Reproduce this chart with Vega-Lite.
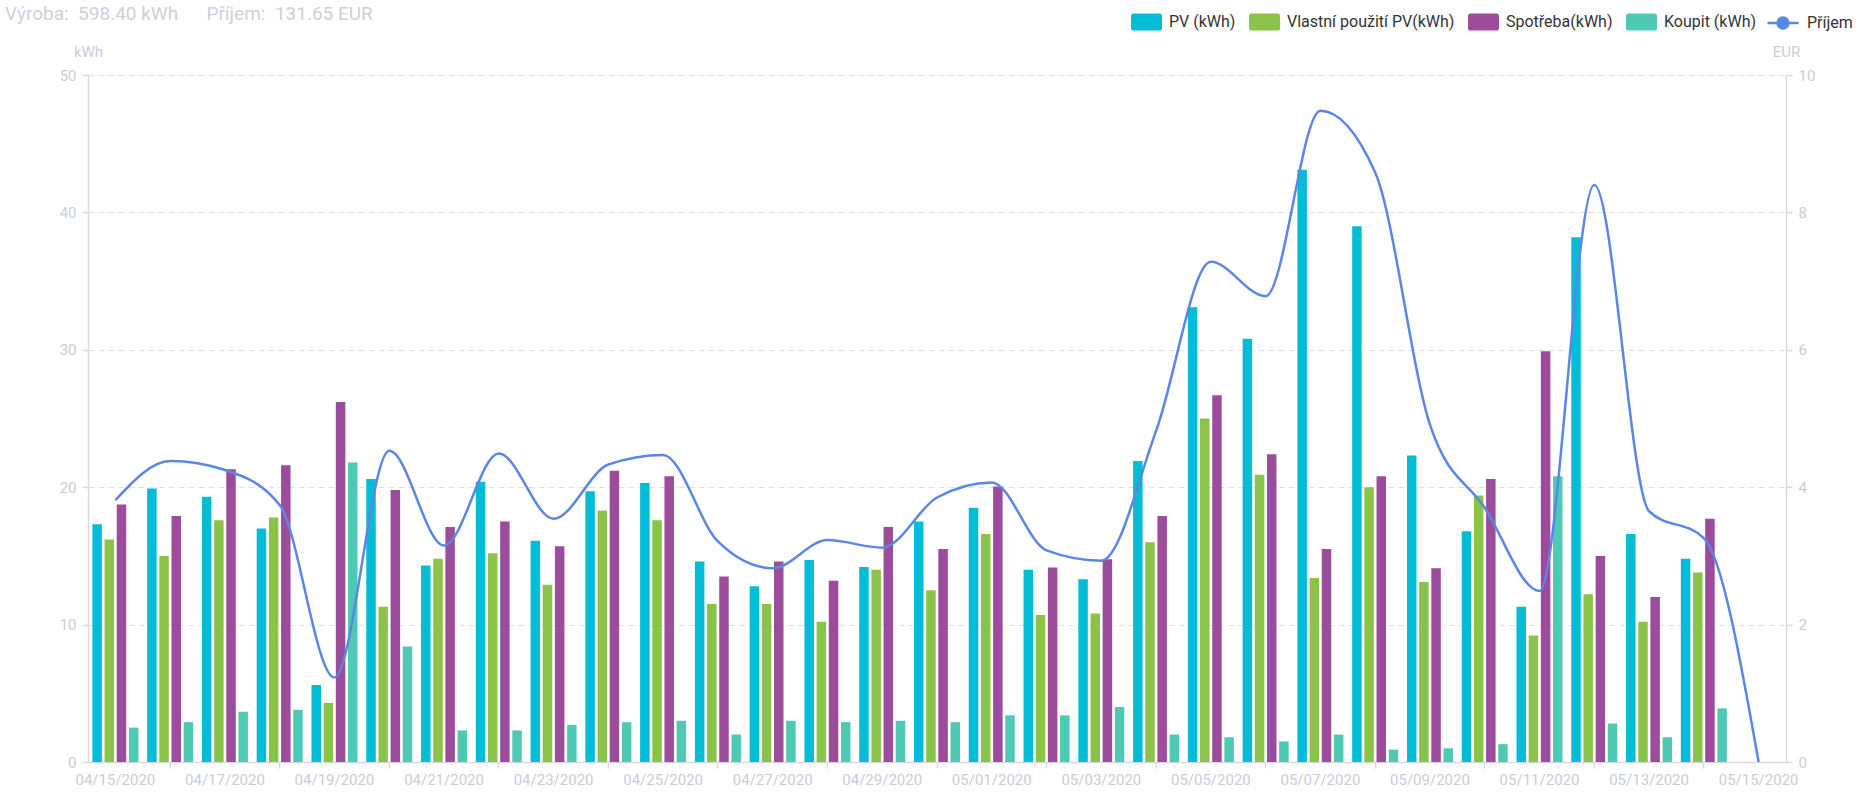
{
  "$schema": "https://vega.github.io/schema/vega-lite/v6.json",
  "width": 1698,
  "height": 687,
  "autosize": {"type": "none"},
  "padding": {"left": 88, "top": 75, "right": 84, "bottom": 50},
  "background": "#ffffff",
  "title": {
    "text": "Výroba:\u00a0\u00a0598.40 kWh\u00a0\u00a0\u00a0\u00a0\u00a0\u00a0Příjem:\u00a0\u00a0131.65 EUR",
    "anchor": "start",
    "frame": "group",
    "orient": "top",
    "dx": -83,
    "dy": 24,
    "offset": 6,
    "font": "Roboto",
    "fontSize": 19,
    "fontWeight": "normal",
    "color": "#cdd0db"
  },
  "datasets": {
    "bars": [
      {"date": "04/15/2020", "series": "PV (kWh)", "kwh": 17.3},
      {"date": "04/15/2020", "series": "Vlastní použití PV(kWh)", "kwh": 16.2},
      {"date": "04/15/2020", "series": "Spotřeba(kWh)", "kwh": 18.75},
      {"date": "04/15/2020", "series": "Koupit (kWh)", "kwh": 2.5},
      {"date": "04/16/2020", "series": "PV (kWh)", "kwh": 19.9},
      {"date": "04/16/2020", "series": "Vlastní použití PV(kWh)", "kwh": 15.0},
      {"date": "04/16/2020", "series": "Spotřeba(kWh)", "kwh": 17.9},
      {"date": "04/16/2020", "series": "Koupit (kWh)", "kwh": 2.9},
      {"date": "04/17/2020", "series": "PV (kWh)", "kwh": 19.3},
      {"date": "04/17/2020", "series": "Vlastní použití PV(kWh)", "kwh": 17.6},
      {"date": "04/17/2020", "series": "Spotřeba(kWh)", "kwh": 21.3},
      {"date": "04/17/2020", "series": "Koupit (kWh)", "kwh": 3.65},
      {"date": "04/18/2020", "series": "PV (kWh)", "kwh": 17.0},
      {"date": "04/18/2020", "series": "Vlastní použití PV(kWh)", "kwh": 17.8},
      {"date": "04/18/2020", "series": "Spotřeba(kWh)", "kwh": 21.6},
      {"date": "04/18/2020", "series": "Koupit (kWh)", "kwh": 3.8},
      {"date": "04/19/2020", "series": "PV (kWh)", "kwh": 5.6},
      {"date": "04/19/2020", "series": "Vlastní použití PV(kWh)", "kwh": 4.3},
      {"date": "04/19/2020", "series": "Spotřeba(kWh)", "kwh": 26.2},
      {"date": "04/19/2020", "series": "Koupit (kWh)", "kwh": 21.8},
      {"date": "04/20/2020", "series": "PV (kWh)", "kwh": 20.6},
      {"date": "04/20/2020", "series": "Vlastní použití PV(kWh)", "kwh": 11.3},
      {"date": "04/20/2020", "series": "Spotřeba(kWh)", "kwh": 19.8},
      {"date": "04/20/2020", "series": "Koupit (kWh)", "kwh": 8.4},
      {"date": "04/21/2020", "series": "PV (kWh)", "kwh": 14.3},
      {"date": "04/21/2020", "series": "Vlastní použití PV(kWh)", "kwh": 14.8},
      {"date": "04/21/2020", "series": "Spotřeba(kWh)", "kwh": 17.1},
      {"date": "04/21/2020", "series": "Koupit (kWh)", "kwh": 2.3},
      {"date": "04/22/2020", "series": "PV (kWh)", "kwh": 20.4},
      {"date": "04/22/2020", "series": "Vlastní použití PV(kWh)", "kwh": 15.2},
      {"date": "04/22/2020", "series": "Spotřeba(kWh)", "kwh": 17.5},
      {"date": "04/22/2020", "series": "Koupit (kWh)", "kwh": 2.3},
      {"date": "04/23/2020", "series": "PV (kWh)", "kwh": 16.1},
      {"date": "04/23/2020", "series": "Vlastní použití PV(kWh)", "kwh": 12.9},
      {"date": "04/23/2020", "series": "Spotřeba(kWh)", "kwh": 15.7},
      {"date": "04/23/2020", "series": "Koupit (kWh)", "kwh": 2.7},
      {"date": "04/24/2020", "series": "PV (kWh)", "kwh": 19.7},
      {"date": "04/24/2020", "series": "Vlastní použití PV(kWh)", "kwh": 18.3},
      {"date": "04/24/2020", "series": "Spotřeba(kWh)", "kwh": 21.2},
      {"date": "04/24/2020", "series": "Koupit (kWh)", "kwh": 2.9},
      {"date": "04/25/2020", "series": "PV (kWh)", "kwh": 20.3},
      {"date": "04/25/2020", "series": "Vlastní použití PV(kWh)", "kwh": 17.6},
      {"date": "04/25/2020", "series": "Spotřeba(kWh)", "kwh": 20.8},
      {"date": "04/25/2020", "series": "Koupit (kWh)", "kwh": 3.0},
      {"date": "04/26/2020", "series": "PV (kWh)", "kwh": 14.6},
      {"date": "04/26/2020", "series": "Vlastní použití PV(kWh)", "kwh": 11.5},
      {"date": "04/26/2020", "series": "Spotřeba(kWh)", "kwh": 13.5},
      {"date": "04/26/2020", "series": "Koupit (kWh)", "kwh": 2.0},
      {"date": "04/27/2020", "series": "PV (kWh)", "kwh": 12.8},
      {"date": "04/27/2020", "series": "Vlastní použití PV(kWh)", "kwh": 11.5},
      {"date": "04/27/2020", "series": "Spotřeba(kWh)", "kwh": 14.6},
      {"date": "04/27/2020", "series": "Koupit (kWh)", "kwh": 3.0},
      {"date": "04/28/2020", "series": "PV (kWh)", "kwh": 14.7},
      {"date": "04/28/2020", "series": "Vlastní použití PV(kWh)", "kwh": 10.2},
      {"date": "04/28/2020", "series": "Spotřeba(kWh)", "kwh": 13.2},
      {"date": "04/28/2020", "series": "Koupit (kWh)", "kwh": 2.9},
      {"date": "04/29/2020", "series": "PV (kWh)", "kwh": 14.2},
      {"date": "04/29/2020", "series": "Vlastní použití PV(kWh)", "kwh": 14.0},
      {"date": "04/29/2020", "series": "Spotřeba(kWh)", "kwh": 17.1},
      {"date": "04/29/2020", "series": "Koupit (kWh)", "kwh": 3.0},
      {"date": "04/30/2020", "series": "PV (kWh)", "kwh": 17.5},
      {"date": "04/30/2020", "series": "Vlastní použití PV(kWh)", "kwh": 12.5},
      {"date": "04/30/2020", "series": "Spotřeba(kWh)", "kwh": 15.5},
      {"date": "04/30/2020", "series": "Koupit (kWh)", "kwh": 2.9},
      {"date": "05/01/2020", "series": "PV (kWh)", "kwh": 18.5},
      {"date": "05/01/2020", "series": "Vlastní použití PV(kWh)", "kwh": 16.6},
      {"date": "05/01/2020", "series": "Spotřeba(kWh)", "kwh": 20.05},
      {"date": "05/01/2020", "series": "Koupit (kWh)", "kwh": 3.4},
      {"date": "05/02/2020", "series": "PV (kWh)", "kwh": 14.0},
      {"date": "05/02/2020", "series": "Vlastní použití PV(kWh)", "kwh": 10.7},
      {"date": "05/02/2020", "series": "Spotřeba(kWh)", "kwh": 14.15},
      {"date": "05/02/2020", "series": "Koupit (kWh)", "kwh": 3.4},
      {"date": "05/03/2020", "series": "PV (kWh)", "kwh": 13.3},
      {"date": "05/03/2020", "series": "Vlastní použití PV(kWh)", "kwh": 10.8},
      {"date": "05/03/2020", "series": "Spotřeba(kWh)", "kwh": 14.75},
      {"date": "05/03/2020", "series": "Koupit (kWh)", "kwh": 4.0},
      {"date": "05/04/2020", "series": "PV (kWh)", "kwh": 21.9},
      {"date": "05/04/2020", "series": "Vlastní použití PV(kWh)", "kwh": 16.0},
      {"date": "05/04/2020", "series": "Spotřeba(kWh)", "kwh": 17.9},
      {"date": "05/04/2020", "series": "Koupit (kWh)", "kwh": 2.0},
      {"date": "05/05/2020", "series": "PV (kWh)", "kwh": 33.1},
      {"date": "05/05/2020", "series": "Vlastní použití PV(kWh)", "kwh": 25.0},
      {"date": "05/05/2020", "series": "Spotřeba(kWh)", "kwh": 26.7},
      {"date": "05/05/2020", "series": "Koupit (kWh)", "kwh": 1.8},
      {"date": "05/06/2020", "series": "PV (kWh)", "kwh": 30.8},
      {"date": "05/06/2020", "series": "Vlastní použití PV(kWh)", "kwh": 20.9},
      {"date": "05/06/2020", "series": "Spotřeba(kWh)", "kwh": 22.4},
      {"date": "05/06/2020", "series": "Koupit (kWh)", "kwh": 1.5},
      {"date": "05/07/2020", "series": "PV (kWh)", "kwh": 43.1},
      {"date": "05/07/2020", "series": "Vlastní použití PV(kWh)", "kwh": 13.4},
      {"date": "05/07/2020", "series": "Spotřeba(kWh)", "kwh": 15.5},
      {"date": "05/07/2020", "series": "Koupit (kWh)", "kwh": 2.0},
      {"date": "05/08/2020", "series": "PV (kWh)", "kwh": 39.0},
      {"date": "05/08/2020", "series": "Vlastní použití PV(kWh)", "kwh": 20.0},
      {"date": "05/08/2020", "series": "Spotřeba(kWh)", "kwh": 20.8},
      {"date": "05/08/2020", "series": "Koupit (kWh)", "kwh": 0.9},
      {"date": "05/09/2020", "series": "PV (kWh)", "kwh": 22.3},
      {"date": "05/09/2020", "series": "Vlastní použití PV(kWh)", "kwh": 13.1},
      {"date": "05/09/2020", "series": "Spotřeba(kWh)", "kwh": 14.1},
      {"date": "05/09/2020", "series": "Koupit (kWh)", "kwh": 1.0},
      {"date": "05/10/2020", "series": "PV (kWh)", "kwh": 16.8},
      {"date": "05/10/2020", "series": "Vlastní použití PV(kWh)", "kwh": 19.4},
      {"date": "05/10/2020", "series": "Spotřeba(kWh)", "kwh": 20.6},
      {"date": "05/10/2020", "series": "Koupit (kWh)", "kwh": 1.3},
      {"date": "05/11/2020", "series": "PV (kWh)", "kwh": 11.3},
      {"date": "05/11/2020", "series": "Vlastní použití PV(kWh)", "kwh": 9.2},
      {"date": "05/11/2020", "series": "Spotřeba(kWh)", "kwh": 29.9},
      {"date": "05/11/2020", "series": "Koupit (kWh)", "kwh": 20.8},
      {"date": "05/12/2020", "series": "PV (kWh)", "kwh": 38.2},
      {"date": "05/12/2020", "series": "Vlastní použití PV(kWh)", "kwh": 12.2},
      {"date": "05/12/2020", "series": "Spotřeba(kWh)", "kwh": 15.0},
      {"date": "05/12/2020", "series": "Koupit (kWh)", "kwh": 2.8},
      {"date": "05/13/2020", "series": "PV (kWh)", "kwh": 16.6},
      {"date": "05/13/2020", "series": "Vlastní použití PV(kWh)", "kwh": 10.2},
      {"date": "05/13/2020", "series": "Spotřeba(kWh)", "kwh": 12.0},
      {"date": "05/13/2020", "series": "Koupit (kWh)", "kwh": 1.8},
      {"date": "05/14/2020", "series": "PV (kWh)", "kwh": 14.8},
      {"date": "05/14/2020", "series": "Vlastní použití PV(kWh)", "kwh": 13.8},
      {"date": "05/14/2020", "series": "Spotřeba(kWh)", "kwh": 17.7},
      {"date": "05/14/2020", "series": "Koupit (kWh)", "kwh": 3.9},
      {"date": "05/15/2020", "series": "PV (kWh)", "kwh": 0},
      {"date": "05/15/2020", "series": "Vlastní použití PV(kWh)", "kwh": 0},
      {"date": "05/15/2020", "series": "Spotřeba(kWh)", "kwh": 0},
      {"date": "05/15/2020", "series": "Koupit (kWh)", "kwh": 0}
    ],
    "income": [
      {"date": "04/15/2020", "eur": 3.81},
      {"date": "04/16/2020", "eur": 4.38},
      {"date": "04/17/2020", "eur": 4.25},
      {"date": "04/18/2020", "eur": 3.74},
      {"date": "04/19/2020", "eur": 1.23},
      {"date": "04/20/2020", "eur": 4.53},
      {"date": "04/21/2020", "eur": 3.15},
      {"date": "04/22/2020", "eur": 4.49},
      {"date": "04/23/2020", "eur": 3.54},
      {"date": "04/24/2020", "eur": 4.33},
      {"date": "04/25/2020", "eur": 4.47},
      {"date": "04/26/2020", "eur": 3.21},
      {"date": "04/27/2020", "eur": 2.82},
      {"date": "04/28/2020", "eur": 3.23},
      {"date": "04/29/2020", "eur": 3.12},
      {"date": "04/30/2020", "eur": 3.85},
      {"date": "05/01/2020", "eur": 4.07},
      {"date": "05/02/2020", "eur": 3.08},
      {"date": "05/03/2020", "eur": 2.93},
      {"date": "05/04/2020", "eur": 4.82},
      {"date": "05/05/2020", "eur": 7.28},
      {"date": "05/06/2020", "eur": 6.78},
      {"date": "05/07/2020", "eur": 9.48},
      {"date": "05/08/2020", "eur": 8.58},
      {"date": "05/09/2020", "eur": 4.91},
      {"date": "05/10/2020", "eur": 3.70},
      {"date": "05/11/2020", "eur": 2.49},
      {"date": "05/12/2020", "eur": 8.40},
      {"date": "05/13/2020", "eur": 3.65},
      {"date": "05/14/2020", "eur": 3.26},
      {"date": "05/15/2020", "eur": 0}
    ]
  },
  "layer": [
    {
      "data": {"name": "bars"},
      "mark": {"type": "bar"},
      "encoding": {
        "x": {
          "field": "date",
          "type": "ordinal",
          "scale": {"paddingInner": 0.16, "paddingOuter": 0.08},
          "axis": {
            "title": null,
            "labelAngle": 0,
            "ticks": false,
            "values": ["04/15/2020", "04/17/2020", "04/19/2020", "04/21/2020", "04/23/2020", "04/25/2020", "04/27/2020", "04/29/2020", "05/01/2020", "05/03/2020", "05/05/2020", "05/07/2020", "05/09/2020", "05/11/2020", "05/13/2020", "05/15/2020"],
            "labelPadding": 10
          }
        },
        "xOffset": {
          "field": "series",
          "type": "nominal",
          "sort": ["PV (kWh)", "Vlastní použití PV(kWh)", "Spotřeba(kWh)", "Koupit (kWh)"],
          "scale": {"paddingInner": 0.22, "paddingOuter": 0}
        },
        "y": {
          "field": "kwh",
          "type": "quantitative",
          "scale": {"domain": [0, 50]},
          "axis": {
            "title": "kWh",
            "values": [0, 10, 20, 30, 40, 50],
            "grid": true,
            "gridDash": [6, 4],
            "gridColor": "#dcdee8",
            "titleAngle": 0,
            "titleX": 0,
            "titleY": -24,
            "titleAlign": "center",
            "titleBaseline": "middle"
          }
        },
        "fill": {
          "field": "series",
          "type": "nominal",
          "sort": ["PV (kWh)", "Vlastní použití PV(kWh)", "Spotřeba(kWh)", "Koupit (kWh)"],
          "scale": {
            "domain": ["PV (kWh)", "Vlastní použití PV(kWh)", "Spotřeba(kWh)", "Koupit (kWh)"],
            "range": ["#03bcd6", "#8bc34a", "#9b4c9b", "#4ecab4"]
          },
          "legend": {
            "title": null,
            "orient": "none",
            "direction": "horizontal",
            "legendX": 1043,
            "legendY": -69,
            "symbolType": "M-0.85,-0.55 H0.85 A0.15,0.15 0 0 1 1,-0.4 V0.4 A0.15,0.15 0 0 1 0.85,0.55 H-0.85 A0.15,0.15 0 0 1 -1,0.4 V-0.4 A0.15,0.15 0 0 1 -0.85,-0.55 Z",
            "symbolSize": 961,
            "symbolStrokeWidth": 0,
            "labelOffset": 7,
            "labelLimit": 400,
            "columnPadding": 12
          }
        }
      }
    },
    {
      "data": {"name": "income"},
      "mark": {"type": "line", "interpolate": "monotone", "strokeWidth": 2.5},
      "encoding": {
        "x": {
          "field": "date",
          "type": "ordinal",
          "axis": {
            "orient": "bottom",
            "title": null,
            "labels": false,
            "domain": false,
            "ticks": true,
            "tickSize": 6,
            "values": ["04/16/2020", "04/18/2020", "04/20/2020", "04/22/2020", "04/24/2020", "04/26/2020", "04/28/2020", "04/30/2020", "05/02/2020", "05/04/2020", "05/06/2020", "05/08/2020", "05/10/2020", "05/12/2020", "05/14/2020"]
          }
        },
        "y": {
          "field": "eur",
          "type": "quantitative",
          "scale": {"domain": [0, 10]},
          "axis": {
            "orient": "right",
            "title": "EUR",
            "values": [0, 2, 4, 6, 8, 10],
            "grid": false,
            "titleAngle": 0,
            "titleX": 0,
            "titleY": -24,
            "titleAlign": "center",
            "titleBaseline": "middle"
          }
        },
        "stroke": {
          "datum": "Příjem",
          "type": "nominal",
          "scale": {"range": ["#5a87e5"]},
          "legend": {
            "title": null,
            "orient": "none",
            "legendX": 1678,
            "legendY": -69,
            "symbolType": "M-1,0 H-0.35 M0.35,0 H1 M-0.35,0 A0.35,0.35 0 1 0 0.35,0 A0.35,0.35 0 1 0 -0.35,0 Z",
            "symbolSize": 961,
            "symbolStrokeWidth": 2.5,
            "symbolFillColor": "#5a87e5",
            "labelOffset": 7
          }
        }
      }
    }
  ],
  "resolve": {"scale": {"y": "independent", "fill": "independent"}, "axis": {"x": "independent"}},
  "config": {
    "font": "Roboto",
    "view": {"stroke": null},
    "axis": {
      "labelFont": "Roboto",
      "titleFont": "Roboto",
      "labelFontSize": 15,
      "titleFontSize": 15,
      "titleFontWeight": "normal",
      "labelColor": "#c9ccd8",
      "titleColor": "#c9ccd8",
      "domainColor": "#d7d9e3",
      "tickColor": "#d7d9e3",
      "domainWidth": 1.5,
      "tickWidth": 1.5,
      "tickSize": 6,
      "labelPadding": 6
    },
    "legend": {
      "labelFont": "Roboto",
      "labelFontSize": 16,
      "labelColor": "#333333"
    }
  }
}
